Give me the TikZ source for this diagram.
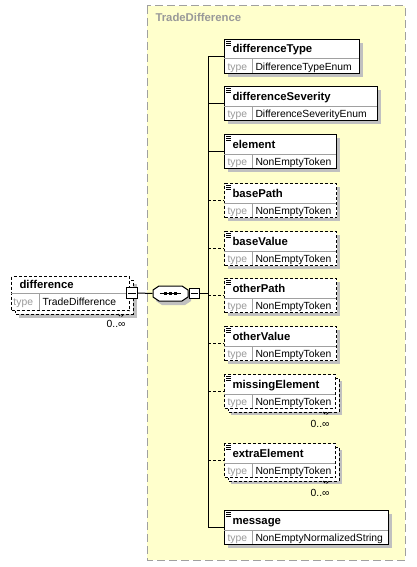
\documentclass[tikz,border=0pt]{standalone}
\usepackage{fontspec}
\setmainfont{Liberation Sans}

\definecolor{ctfill}{HTML}{FFFFCC}
\definecolor{ctline}{HTML}{A0A0A0}
\definecolor{shadowgray}{HTML}{C0C0C0}
\definecolor{typegray}{HTML}{999999}
\definecolor{rulegray}{HTML}{A0A0A0}

\tikzset{
  elbox/.style={draw=black, fill=white, line width=0.75pt},
  optline/.style={dash pattern=on 2.25pt off 1.5pt},
  nametext/.style={font=\bfseries\fontsize{8.5}{10}\selectfont, anchor=base west, inner sep=0pt},
  typetext/.style={font=\fontsize{7.75}{9}\selectfont, anchor=base west, inner sep=0pt},
  minusbox/.style={draw, fill=white, line width=0.75pt, minimum size=8pt, inner sep=0pt},
}

\begin{document}
\begin{tikzpicture}[x=0.75pt, y=-0.75pt, line width=0.75pt]
    \useasboundingbox (0,0) rectangle (417,567);

    % complex type frame
    \draw[fill=ctfill, draw=ctline, dash pattern=on 6pt off 3pt]
        (147,6) rectangle (405,560);
    \node[nametext, text=typegray] (ctname) at (155,22) {TradeDifference};

    % top element
    \fill[shadowgray] (19,284) rectangle (137,318);
    \draw[elbox, optline] (15,280) rectangle (133,314);
    \draw[optline] (118,314) -- (121,317) -- (124,314);
    \node[elbox, optline, anchor=north west, minimum width=88.5pt,
        minimum height=25.5pt, inner sep=0pt] (difference) at (11,276) {};
    \draw[rulegray] (11,293) -- (129,293);
    \draw[rulegray] (39,293) -- (39,310);
    \node[nametext] at (19,288) {difference};
    \node[typetext, text=typegray] at (13,305) {type};
    \node[typetext] at (42,305) {TradeDifference};
    \node[typetext, anchor=base east] at (126,327) {0..∞};
    \node[minusbox] (diffexp) at (132,293) {};
    \draw ([xshift=1.5pt]diffexp.west) -- ([xshift=-1.5pt]diffexp.east);

    % sequence compositor
    \fill[shadowgray] (156,294) -- (162,290) -- (185,290) -- (191,294)
        -- (191,301) -- (185,305) -- (162,305) -- (156,301) -- cycle;
    \draw[fill=white] (153,290) -- (159,286) -- (182,286) -- (188,290)
        -- (188,297) -- (182,301) -- (159,301) -- (153,297) -- cycle;
    \node[minimum width=26.25pt, minimum height=11.25pt, inner sep=0pt]
        (seq) at (170.5,293.5) {};
    \draw ([xshift=-8pt]seq.center) -- ([xshift=8pt]seq.center);
    \foreach \dx in {-3.5,0,3.5}
        \fill ([xshift=\dx pt]seq.center) +(-1.2pt,-1.2pt) rectangle +(1.2pt,1.2pt);
    \node[minusbox, anchor=west] (seqexp) at (seq.east) {};
    \draw ([xshift=1.5pt]seqexp.west) -- ([xshift=-1.5pt]seqexp.east);
    \coordinate (spine) at (208,293.5);

    \draw (diffexp.east) -- (seq.west);
    \draw (seqexp.east) -- (spine);

    % child elements
    \foreach \nm/\ty/\rx/\tp/\st/\mult in {
        differenceType/39/359/DifferenceTypeEnum/solid/0,
        differenceSeverity/86/377/DifferenceSeverityEnum/solid/0,
        element/134/336/NonEmptyToken/solid/0,
        basePath/183/336/NonEmptyToken/optline/0,
        baseValue/231/336/NonEmptyToken/optline/0,
        otherPath/278/336/NonEmptyToken/optline/0,
        otherValue/326/336/NonEmptyToken/optline/0,
        missingElement/374/335/NonEmptyToken/optline/1,
        extraElement/443/335/NonEmptyToken/optline/1,
        message/510/388/NonEmptyNormalizedString/solid/0}
    {
        \ifnum\mult=1
            \fill[shadowgray] (231,\ty+7) rectangle (\rx+7,\ty+41);
            \draw[elbox, \st] (228,\ty+4) rectangle (\rx+4,\ty+38);
            \draw[\st] (\rx-12,\ty+38) -- (\rx-9,\ty+41) -- (\rx-6,\ty+38);
            \node[typetext, anchor=base east] at (\rx-5,\ty+53) {0..∞};
        \else
            \fill[shadowgray] (228,\ty+4) rectangle (\rx+4,\ty+38);
        \fi
        \node[elbox, \st, anchor=north west, minimum width={(\rx-224)*0.75pt},
            minimum height=25.5pt, inner sep=0pt] (\nm) at (224,\ty) {};
        \draw[rulegray] (224,\ty+20) -- (\rx,\ty+20);
        \draw[rulegray] (252,\ty+20) -- (252,\ty+34);
        \foreach \k in {0,2,4}
            \draw[line width=0.5pt] (226,\ty+2+\k) -- (231,\ty+2+\k);
        \node[nametext] at (232,\ty+14) {\nm};
        \node[typetext, text=typegray] at (227,\ty+31) {type};
        \node[typetext] at (255,\ty+31) {\tp};
        \draw[\st] (\nm.west -| spine) -- (\nm.west);
    }

    \draw (differenceType.west -| spine) -- (message.west -| spine);
\end{tikzpicture}
\end{document}
